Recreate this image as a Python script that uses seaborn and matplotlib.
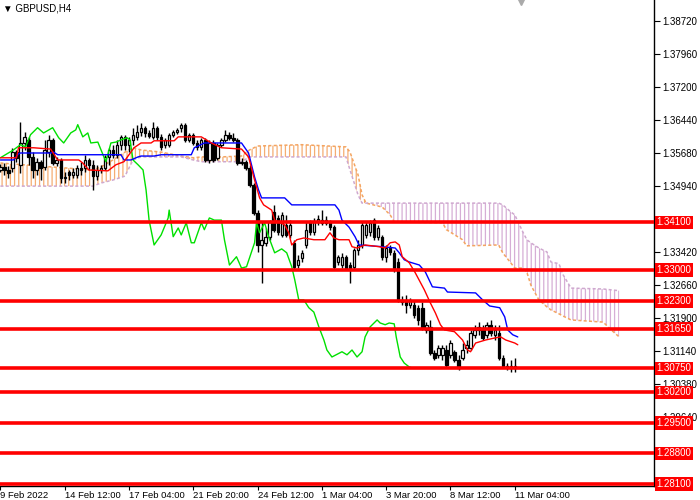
import numpy as np
import matplotlib
matplotlib.use("Agg")
import matplotlib.pyplot as plt
import matplotlib.transforms as mtransforms
import seaborn as sns

sns.set_theme(style="white")
plt.rcParams['font.family'] = ['Liberation Sans', 'DejaVu Sans']
plt.rcParams['hatch.linewidth'] = 0.9

# ---------------- data ----------------
opens = [1.3530, 1.3537, 1.3530, 1.3535, 1.3572, 1.3542, 1.3592, 1.3599, 1.3560, 1.3530,
         1.3549, 1.3537, 1.3572, 1.3599, 1.3546, 1.3553, 1.3512, 1.3526, 1.3519, 1.3519,
         1.3535, 1.3535, 1.3553, 1.3542, 1.3516, 1.3530, 1.3535, 1.3560, 1.3576, 1.3565,
         1.3588, 1.3606, 1.3588, 1.3599, 1.3606, 1.3617, 1.3627, 1.3615, 1.3606, 1.3627,
         1.3606, 1.3588, 1.3588, 1.3611, 1.3617, 1.3627, 1.3634, 1.3599, 1.3611, 1.3592,
         1.3583, 1.3599, 1.3553, 1.3592, 1.3558, 1.3588, 1.3599, 1.3611, 1.3604, 1.3599,
         1.3546, 1.3549, 1.3535, 1.3496, 1.3432, 1.3358, 1.3363, 1.3377, 1.3434, 1.3420,
         1.3381, 1.3404, 1.3381, 1.3363, 1.3312, 1.3328, 1.3358, 1.3411, 1.3388, 1.3411,
         1.3415, 1.3409, 1.3411, 1.3399, 1.3319, 1.3312, 1.3331, 1.3312, 1.3308, 1.3347,
         1.3358, 1.3381, 1.3388, 1.3415, 1.3377, 1.3377, 1.3331, 1.3351, 1.3340, 1.3319,
         1.3232, 1.3232, 1.3220, 1.3220, 1.3214, 1.3214, 1.3163, 1.3170, 1.3110, 1.3106,
         1.3106, 1.3117, 1.3106, 1.3113, 1.3094, 1.3099, 1.3122, 1.3122, 1.3152, 1.3163,
         1.3168, 1.3152, 1.3175, 1.3152, 1.3156, 1.3099, 1.3080, 1.3080, 1.3080]
highs = [1.3544, 1.3546, 1.3539, 1.3581, 1.3576, 1.3640, 1.3617, 1.3606, 1.3572, 1.3558,
         1.3553, 1.3599, 1.3611, 1.3604, 1.3560, 1.3558, 1.3526, 1.3530, 1.3535, 1.3542,
         1.3549, 1.3565, 1.3558, 1.3553, 1.3542, 1.3542, 1.3565, 1.3581, 1.3588, 1.3599,
         1.3611, 1.3611, 1.3606, 1.3627, 1.3634, 1.3638, 1.3631, 1.3622, 1.3640, 1.3631,
         1.3613, 1.3604, 1.3615, 1.3622, 1.3627, 1.3638, 1.3638, 1.3615, 1.3615, 1.3599,
         1.3604, 1.3604, 1.3599, 1.3599, 1.3592, 1.3604, 1.3622, 1.3617, 1.3615, 1.3604,
         1.3558, 1.3553, 1.3542, 1.3500, 1.3438, 1.3411, 1.3397, 1.3415, 1.3450, 1.3427,
         1.3434, 1.3427, 1.3415, 1.3370, 1.3335, 1.3347, 1.3411, 1.3415, 1.3420, 1.3427,
         1.3438, 1.3425, 1.3415, 1.3404, 1.3335, 1.3340, 1.3335, 1.3319, 1.3351, 1.3370,
         1.3411, 1.3411, 1.3415, 1.3420, 1.3404, 1.3381, 1.3358, 1.3358, 1.3347, 1.3328,
         1.3241, 1.3243, 1.3237, 1.3232, 1.3220, 1.3227, 1.3181, 1.3186, 1.3117, 1.3129,
         1.3129, 1.3129, 1.3140, 1.3117, 1.3106, 1.3133, 1.3140, 1.3163, 1.3175, 1.3181,
         1.3175, 1.3181, 1.3186, 1.3175, 1.3175, 1.3106, 1.3087, 1.3094, 1.3099]
lows = [1.3526, 1.3519, 1.3512, 1.3526, 1.3549, 1.3523, 1.3576, 1.3542, 1.3512, 1.3519,
        1.3507, 1.3530, 1.3560, 1.3542, 1.3539, 1.3500, 1.3500, 1.3507, 1.3512, 1.3512,
        1.3519, 1.3526, 1.3530, 1.3484, 1.3507, 1.3523, 1.3530, 1.3542, 1.3558, 1.3558,
        1.3576, 1.3576, 1.3572, 1.3588, 1.3599, 1.3608, 1.3606, 1.3604, 1.3601, 1.3599,
        1.3576, 1.3581, 1.3583, 1.3606, 1.3613, 1.3617, 1.3594, 1.3594, 1.3588, 1.3576,
        1.3576, 1.3549, 1.3546, 1.3549, 1.3553, 1.3583, 1.3594, 1.3599, 1.3594, 1.3542,
        1.3542, 1.3530, 1.3491, 1.3427, 1.3342, 1.3271, 1.3356, 1.3370, 1.3388, 1.3381,
        1.3377, 1.3377, 1.3374, 1.3301, 1.3305, 1.3319, 1.3351, 1.3381, 1.3381, 1.3404,
        1.3404, 1.3404, 1.3393, 1.3301, 1.3312, 1.3305, 1.3301, 1.3271, 1.3301, 1.3335,
        1.3351, 1.3374, 1.3379, 1.3370, 1.3370, 1.3324, 1.3319, 1.3335, 1.3296, 1.3227,
        1.3220, 1.3202, 1.3214, 1.3191, 1.3175, 1.3163, 1.3156, 1.3106, 1.3094, 1.3099,
        1.3094, 1.3078, 1.3099, 1.3090, 1.3071, 1.3094, 1.3110, 1.3117, 1.3145, 1.3152,
        1.3140, 1.3145, 1.3149, 1.3140, 1.3094, 1.3078, 1.3071, 1.3067, 1.3067]
closes = [1.3537, 1.3530, 1.3523, 1.3572, 1.3558, 1.3592, 1.3606, 1.3560, 1.3530, 1.3549,
          1.3535, 1.3576, 1.3599, 1.3546, 1.3553, 1.3512, 1.3514, 1.3519, 1.3526, 1.3535,
          1.3530, 1.3553, 1.3542, 1.3516, 1.3530, 1.3535, 1.3560, 1.3576, 1.3565, 1.3588,
          1.3606, 1.3588, 1.3599, 1.3611, 1.3617, 1.3627, 1.3615, 1.3608, 1.3627, 1.3606,
          1.3583, 1.3599, 1.3611, 1.3617, 1.3622, 1.3634, 1.3599, 1.3611, 1.3592, 1.3583,
          1.3599, 1.3553, 1.3592, 1.3553, 1.3588, 1.3599, 1.3611, 1.3604, 1.3599, 1.3546,
          1.3549, 1.3535, 1.3496, 1.3432, 1.3358, 1.3370, 1.3377, 1.3411, 1.3393, 1.3388,
          1.3427, 1.3381, 1.3404, 1.3308, 1.3324, 1.3340, 1.3393, 1.3388, 1.3411, 1.3418,
          1.3409, 1.3415, 1.3399, 1.3308, 1.3331, 1.3331, 1.3305, 1.3305, 1.3347, 1.3358,
          1.3404, 1.3404, 1.3409, 1.3377, 1.3397, 1.3331, 1.3351, 1.3342, 1.3305, 1.3232,
          1.3227, 1.3220, 1.3232, 1.3197, 1.3186, 1.3168, 1.3175, 1.3110, 1.3099, 1.3122,
          1.3122, 1.3083, 1.3133, 1.3094, 1.3076, 1.3117, 1.3129, 1.3156, 1.3163, 1.3170,
          1.3145, 1.3175, 1.3156, 1.3163, 1.3099, 1.3080, 1.3078, 1.3076, 1.3076]

# Tenkan-sen (red)
tenkan_x = [0, 4, 4.5, 8.25, 12.5, 14.25, 19.5, 20.5, 22, 26.75, 28.75, 30.75, 33.25, 35,
            37.5, 38.25, 43.25, 44.25, 50, 52.5, 55, 60, 61.75, 63.25, 64.5, 65.5, 67.5,
            68.25, 70.75, 71.75, 72.5, 73.75, 75.5, 78, 80.75, 82, 83, 84.25, 86.75, 87.5,
            88.75, 90.75, 94.25, 95.75, 97, 98.25, 99.25, 100, 101.75, 103.25, 105.5, 107,
            108.25, 109.5, 110.5, 113, 115, 116.25, 117, 118.25, 120.75, 123.25, 124.5,
            125.75, 128, 128.75]
tenkan_y = [1.3558, 1.3558, 1.3581, 1.3581, 1.3578, 1.3553, 1.3553, 1.3546, 1.3530, 1.3528,
            1.3542, 1.3549, 1.3581, 1.3592, 1.3592, 1.3597, 1.3597, 1.3606, 1.3606, 1.3592,
            1.3581, 1.3578, 1.3560, 1.3507, 1.3466, 1.3450, 1.3438, 1.3415, 1.3404, 1.3386,
            1.3358, 1.3370, 1.3374, 1.3370, 1.3370, 1.3386, 1.3374, 1.3370, 1.3370, 1.3354,
            1.3351, 1.3358, 1.3354, 1.3351, 1.3363, 1.3365, 1.3358, 1.3331, 1.3317, 1.3294,
            1.3255, 1.3225, 1.3202, 1.3175, 1.3163, 1.3159, 1.3140, 1.3117, 1.3113, 1.3133,
            1.3140, 1.3145, 1.3147, 1.3140, 1.3133, 1.3129]

# Kijun-sen (blue)
kijun_x = [0, 3.25, 4.5, 5, 12.5, 13.25, 14.25, 30, 30.75, 32.5, 34.25, 35, 38.25, 40,
           47.5, 48.25, 50.75, 60, 61.75, 63.25, 64.25, 65, 70.75, 72.5, 83.25, 84.25, 85,
           86.75, 88.25, 89.25, 95, 98.25, 99.25, 100.5, 101.75, 104.25, 105.75, 107.5,
           110.5, 111.25, 118.25, 120, 121.75, 124.25, 125.5, 126.25, 127.5, 128.75]
kijun_y = [1.3553, 1.3553, 1.3567, 1.3569, 1.3569, 1.3571, 1.3565, 1.3565, 1.3553, 1.3553,
           1.3560, 1.3562, 1.3562, 1.3565, 1.3565, 1.3581, 1.3592, 1.3592, 1.3569, 1.3514,
           1.3484, 1.3466, 1.3466, 1.3450, 1.3450, 1.3438, 1.3415, 1.3399, 1.3377, 1.3358,
           1.3354, 1.3351, 1.3340, 1.3324, 1.3319, 1.3312, 1.3296, 1.3262, 1.3259, 1.3250,
           1.3248, 1.3232, 1.3218, 1.3214, 1.3193, 1.3163, 1.3152, 1.3147]

# Chikou span (green)
chikou_x = [0, 1.25, 3.25, 5, 6.25, 7.5, 9.25, 10.75, 13, 14.5, 15.75, 17.5, 18.75, 19.25,
            20.5, 21.75, 22.5, 24.25, 25.75, 26.25, 27.5, 28.75, 30, 31.5, 32.25, 33, 34.25,
            35.5, 36.25, 37, 38.25, 40, 41.75, 42, 43, 44.25, 45, 46.25, 47.5, 48.25, 50,
            50.75, 52, 53.25, 55, 55.75, 57, 58.75, 60, 61.25, 63.25, 63.75, 64.5, 65.75,
            66.75, 68.25, 70, 71.25, 72.5, 73.25, 74.25, 75.5, 76.75, 78, 79.25, 80.5, 81.25,
            82.5, 85, 86.25, 87.5, 88.75, 90, 90.75, 92, 93.75, 94.5, 95.75, 96.75, 98, 98.5,
            99.5, 100.5, 101.75, 102.5]
chikou_y = [1.3558, 1.3565, 1.3576, 1.3588, 1.3583, 1.3611, 1.3627, 1.3615, 1.3627, 1.3604,
            1.3592, 1.3615, 1.3622, 1.3634, 1.3606, 1.3615, 1.3592, 1.3594, 1.3560, 1.3549,
            1.3592, 1.3594, 1.3599, 1.3604, 1.3599, 1.3553, 1.3542, 1.3530, 1.3484, 1.3415,
            1.3358, 1.3381, 1.3420, 1.3438, 1.3377, 1.3397, 1.3381, 1.3409, 1.3363, 1.3363,
            1.3409, 1.3393, 1.3420, 1.3415, 1.3415, 1.3370, 1.3312, 1.3331, 1.3305, 1.3308,
            1.3363, 1.3409, 1.3386, 1.3409, 1.3377, 1.3340, 1.3349, 1.3340, 1.3308, 1.3278,
            1.3232, 1.3232, 1.3214, 1.3204, 1.3170, 1.3140, 1.3117, 1.3101, 1.3113, 1.3106,
            1.3117, 1.3101, 1.3113, 1.3147, 1.3170, 1.3186, 1.3179, 1.3175, 1.3179, 1.3177,
            1.3147, 1.3101, 1.3087, 1.3078, 1.3076]

# Kumo (Senkou span A / B, shifted 26 bars ahead)
cloud_x = [0, 10, 20, 23, 25, 28, 31, 33, 35, 40, 45, 48, 50, 55, 60, 62, 64, 75, 86, 87,
           89, 90, 91, 95, 97, 98, 110, 111, 115, 116, 124, 125, 127, 128, 130, 131, 132,
           134, 136, 137, 139, 140, 142, 150, 152, 154]
span_a = [1.3546, 1.3539, 1.3532, 1.3530, 1.3537, 1.3553, 1.3571, 1.3581, 1.3576, 1.3571,
          1.3562, 1.3558, 1.3560, 1.3560, 1.3562, 1.3576, 1.3585, 1.3588, 1.3583, 1.3571,
          1.3519, 1.3473, 1.3454, 1.3445, 1.3427, 1.3411, 1.3409, 1.3393, 1.3370, 1.3356,
          1.3358, 1.3340, 1.3317, 1.3305, 1.3305, 1.3296, 1.3266, 1.3232, 1.3216, 1.3209,
          1.3200, 1.3195, 1.3186, 1.3181, 1.3163, 1.3147]
span_b = [1.3493, 1.3493, 1.3493, 1.3493, 1.3500, 1.3507, 1.3516, 1.3553, 1.3560, 1.3560,
          1.3560, 1.3553, 1.3549, 1.3549, 1.3549, 1.3560, 1.3560, 1.3560, 1.3560, 1.3530,
          1.3473, 1.3454, 1.3454, 1.3454, 1.3454, 1.3454, 1.3454, 1.3454, 1.3454, 1.3454,
          1.3454, 1.3450, 1.3434, 1.3427, 1.3388, 1.3370, 1.3363, 1.3351, 1.3342, 1.3319,
          1.3315, 1.3290, 1.3259, 1.3257, 1.3255, 1.3253]

levels = [1.34100, 1.33000, 1.32300, 1.31650, 1.30750, 1.30200, 1.29500, 1.28800, 1.28100]
price_ticks = [1.38720, 1.37960, 1.37200, 1.36440, 1.35680, 1.34940, 1.33420, 1.32660,
               1.31900, 1.31140, 1.30380, 1.29640]
time_tick_idx = [0, 16, 32, 48, 64, 80, 96, 112, 128]
time_tick_labels = ["9 Feb 2022", "14 Feb 12:00", "17 Feb 04:00", "21 Feb 20:00",
                    "24 Feb 12:00", "1 Mar 04:00", "3 Mar 20:00", "8 Mar 12:00", "11 Mar 04:00"]
title = "\u25BC GBPUSD,H4"

# ---------------- figure ----------------
fig = plt.figure(figsize=(7, 5), dpi=100)
fig.patch.set_facecolor("white")
ax = fig.add_axes([0, 0.028, 0.934, 0.972])
ax.set_facecolor("white")
ax.set_xlim(-0.1, 162.6)
ax.set_ylim(1.2805, 1.3920)

# cloud
cx = np.array(cloud_x, dtype=float)
A = np.array(span_a)
B = np.array(span_b)
ax.fill_between(cx, A, B, where=A >= B, interpolate=True, facecolor="none",
                edgecolor="#f5ad72", hatch="||||", linewidth=0, zorder=1)
ax.fill_between(cx, A, B, where=A < B, interpolate=True, facecolor="none",
                edgecolor="#d6aed6", hatch="||||", linewidth=0, zorder=1)
ax.plot(cx, A, color="#f4a460", lw=1.1, ls=(0, (2, 1.5)), zorder=2)
ax.plot(cx, B, color="#cfa8cf", lw=1.1, ls=(0, (2, 1.5)), zorder=2)

# candles
o = np.array(opens); h = np.array(highs); l = np.array(lows); c = np.array(closes)
idx = np.arange(len(o))
ax.vlines(idx, l, h, color="black", lw=1.0, zorder=3)
up = c >= o
ax.bar(idx[up], np.maximum((c - o)[up], 0.00008), bottom=o[up], width=0.58,
       color="white", edgecolor="black", linewidth=0.9, zorder=4)
ax.bar(idx[~up], (o - c)[~up], bottom=c[~up], width=0.58,
       color="black", edgecolor="black", linewidth=0.9, zorder=4)

# indicator lines via seaborn
sns.lineplot(x=chikou_x, y=chikou_y, color="#00e000", lw=1.0, ax=ax, zorder=5)
sns.lineplot(x=kijun_x, y=kijun_y, color="#0000ff", lw=1.0, ax=ax, zorder=5)
sns.lineplot(x=tenkan_x, y=tenkan_y, color="#ff0000", lw=1.0, ax=ax, zorder=5)

# horizontal levels + labels
trans = mtransforms.blended_transform_factory(ax.transAxes, ax.transData)
for lv in levels:
    ax.axhline(lv, color="#ff0000", lw=2.6, zorder=6)
    ax.text(1.004, lv, f"{lv:.5f}", transform=trans, color="white", fontsize=7,
            va="center", ha="left", clip_on=False, zorder=10,
            bbox=dict(boxstyle="square,pad=0.18", fc="#ff0000", ec="none"))

# axes styling
for s in ["left", "top"]:
    ax.spines[s].set_visible(False)
for s in ["right", "bottom"]:
    ax.spines[s].set_visible(True)
    ax.spines[s].set_color("black")
    ax.spines[s].set_linewidth(1.0)
ax.grid(False)
ax.yaxis.tick_right()
ax.set_yticks(price_ticks)
ax.set_yticklabels([f"{p:.5f}" for p in price_ticks])
ax.tick_params(axis="y", which="both", direction="out", length=4, width=0.8,
               colors="black", labelsize=7, pad=2, right=True, left=False)
ax.set_xticks(time_tick_idx)
ax.set_xticklabels(time_tick_labels, ha="left")
ax.tick_params(axis="x", which="both", direction="out", length=3, width=0.8,
               colors="black", labelsize=6.8, pad=0.5, bottom=True)
for lbl in ax.get_xticklabels():
    lbl.set_horizontalalignment("left")
ax.set_xlabel("")
ax.set_ylabel("")

ax.text(0.004, 0.993, title, transform=ax.transAxes, fontsize=7, va="top", ha="left",
        color="black", family=["Liberation Sans", "DejaVu Sans"], zorder=11)
ax.plot([0.797], [0.997], marker="v", ms=6, color="#aaaaaa", transform=ax.transAxes,
        clip_on=False, zorder=11)

fig.savefig("out.png", dpi=100, facecolor="white")
